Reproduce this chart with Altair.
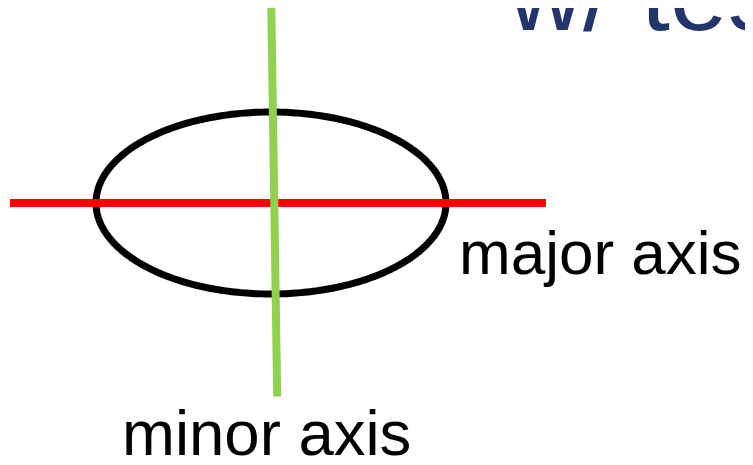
import altair as alt
import numpy as np
import pandas as pd

# Screen-space coordinates (px) of the diagram elements
major_x = [10, 546]
major_y = [203, 203]
minor_x = [271.3, 277.2]
minor_y = [8, 396.5]

ellipse_cx = 271
ellipse_cy = 203
ellipse_rx = 175
ellipse_ry = 91

major_label = ["major axis"]
major_label_x = [459]
major_label_y = [274]

minor_label = ["minor axis"]
minor_label_x = [122]
minor_label_y = [455]

title_text = ["w/ tes"]
title_x = [508]
title_y = [30]

W, H = 737, 449
OFF = 8
xs = alt.Scale(domain=[OFF, OFF + W], nice=False, zero=False)
ys = alt.Scale(domain=[OFF, OFF + H], nice=False, zero=False, reverse=True)

t = np.linspace(0, 2 * np.pi, 361)
ell = pd.DataFrame({
    "x": ellipse_cx + ellipse_rx * np.cos(t),
    "y": ellipse_cy + ellipse_ry * np.sin(t),
    "i": np.arange(len(t)),
})

ellipse = alt.Chart(ell).mark_line(color="black", strokeWidth=7, strokeJoin="round").encode(
    x=alt.X("x:Q", scale=xs, axis=None),
    y=alt.Y("y:Q", scale=ys, axis=None),
    order="i:Q",
)


def seg(xv, yv, color):
    df = pd.DataFrame({"x": [xv[0]], "x2": [xv[1]], "y": [yv[0]], "y2": [yv[1]]})
    return alt.Chart(df).mark_rule(color=color, strokeWidth=8, strokeCap="butt").encode(
        x=alt.X("x:Q", scale=xs, axis=None), x2="x2:Q",
        y=alt.Y("y:Q", scale=ys, axis=None), y2="y2:Q",
    )


def label(txt, xv, yv, size, color):
    df = pd.DataFrame({"label": txt, "x": xv, "y": yv})
    return alt.Chart(df).mark_text(
        font="Liberation Sans", fontSize=size, align="left", baseline="alphabetic", color=color
    ).encode(
        x=alt.X("x:Q", scale=xs, axis=None),
        y=alt.Y("y:Q", scale=ys, axis=None),
        text="label:N",
    )


major = seg(major_x, major_y, "#FF0000")
minor = seg(minor_x, minor_y, "#92D050")
t_major = label(major_label, major_label_x, major_label_y, 62, "black")
t_minor = label(minor_label, minor_label_x, minor_label_y, 63.5, "black")
title = label(title_text, title_x, title_y, 104, "#24356B")

chart = alt.layer(ellipse, major, minor, t_major, t_minor, title).properties(
    width=W, height=H, padding=0, background="white",
    autosize=alt.AutoSizeParams(type="none"),
).configure_view(stroke=None)

chart.save("out.html", embed_options={"renderer": "svg", "actions": False})
